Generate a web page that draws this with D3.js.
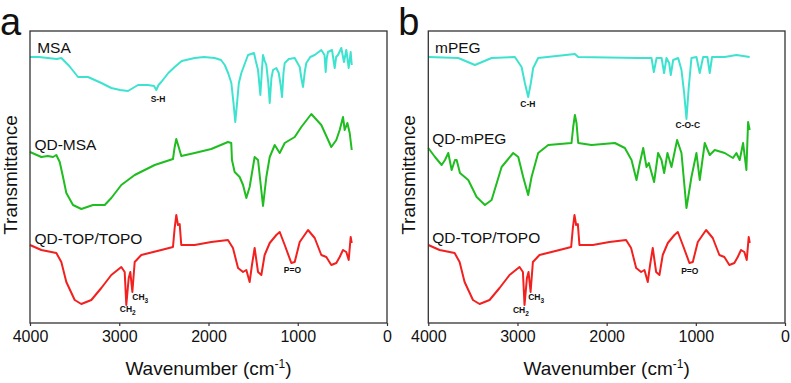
<!DOCTYPE html>
<html lang="en">

<head>
    <meta charset="utf-8">
    <title>FTIR spectra</title>
    <script src="https://d3js.org/d3.v7.min.js"></script>
    <style>
        body { margin: 0; background: #fff; }
        text { font-family: "Liberation Sans", Arial, sans-serif; }
    </style>
</head>

<body>
    <svg width="791" height="383"></svg>

    <script>
        // x: wavenumber (cm-1), y: transmittance in arbitrary units (stacked offsets)
        const xTicks = [4000, 3000, 2000, 1000, 0];

        const msaWn = [4000, 3900, 3800, 3700, 3649, 3560, 3462, 3350, 3200, 3089, 2990, 2902, 2790, 2678, 2610, 2585, 2560, 2529, 2450, 2379, 2300, 2155, 2050, 1931, 1860, 1818, 1780, 1744, 1720, 1700, 1680, 1660, 1632, 1557, 1490, 1470, 1445, 1419, 1400, 1389, 1370, 1352, 1330, 1314, 1295, 1277, 1240, 1213, 1195, 1176, 1160, 1146, 1100, 1034, 978, 960, 941, 920, 904, 860, 810, 736, 700, 687, 675, 661, 616, 586, 570, 549, 512, 482, 456, 429, 407, 395];
        const msaT = [266, 266, 265, 264, 265, 257, 246, 246, 240, 235, 233, 232, 238, 238, 237, 233, 238, 241, 250, 256, 262, 265, 266, 265, 263, 258, 250, 240, 220, 201, 220, 240, 250, 268, 270, 262, 253, 228, 255, 268, 262, 258, 240, 220, 245, 253, 255, 250, 240, 226, 250, 260, 264, 265, 256, 245, 236, 252, 260, 266, 268, 273, 268, 251, 265, 271, 273, 255, 266, 268, 275, 261, 273, 255, 271, 258];

        const qdMsaWn = [4000, 3873, 3800, 3742, 3705, 3667, 3630, 3593, 3518, 3425, 3294, 3163, 3089, 2977, 2827, 2603, 2398, 2379, 2361, 2334, 2305, 2155, 1969, 1782, 1745, 1737, 1707, 1651, 1613, 1576, 1539, 1483, 1445, 1389, 1352, 1314, 1258, 1202, 1146, 1034, 960, 848, 736, 624, 568, 530, 493, 474, 444, 418, 395];
        const qdMsaT = [171, 166, 167, 166, 168, 161, 146, 130, 118, 114, 118, 118, 125, 138, 148, 158, 164, 176, 184, 176, 167, 170, 174, 181, 180, 163, 151, 146, 138, 125, 136, 166, 163, 117, 146, 166, 178, 170, 180, 186, 196, 209, 198, 176, 183, 193, 206, 193, 200, 190, 173];

        const topoWn = [4000, 3873, 3705, 3649, 3593, 3499, 3425, 3313, 3201, 3089, 2977, 2939, 2921, 2894, 2876, 2853, 2827, 2753, 2529, 2398, 2379, 2361, 2342, 2323, 2305, 2155, 1969, 1782, 1726, 1669, 1613, 1576, 1539, 1513, 1483, 1445, 1408, 1371, 1314, 1240, 1202, 1146, 1072, 1034, 978, 885, 810, 736, 680, 624, 568, 530, 493, 456, 429, 407, 395];
        const topoT = [78, 73, 70, 61, 41, 23, 19, 23, 35, 48, 56, 51, 18, 45, 51, 31, 61, 68, 73, 76, 95, 108, 98, 99, 78, 78, 81, 83, 75, 55, 51, 53, 41, 58, 75, 51, 48, 68, 80, 88, 91, 78, 60, 61, 81, 93, 85, 68, 66, 58, 60, 66, 73, 71, 63, 86, 80];

        const mpegWn = [4000, 3664, 3477, 3290, 3029, 2954, 2917, 2880, 2850, 2824, 2768, 2356, 2319, 1647, 1497, 1471, 1440, 1384, 1356, 1329, 1299, 1281, 1254, 1198, 1161, 1131, 1105, 1079, 1049, 993, 956, 918, 870, 844, 818, 676, 545, 396];
        const mpegT = [266, 265, 258, 265, 266, 256, 240, 226, 240, 255, 265, 269, 266, 265, 265, 251, 265, 265, 250, 265, 260, 248, 263, 265, 253, 230, 204, 236, 265, 266, 250, 266, 266, 250, 266, 266, 268, 266];

        const qdMpegWn = [4000, 3925, 3850, 3813, 3776, 3738, 3701, 3682, 3645, 3552, 3458, 3365, 3290, 3178, 3048, 2991, 2936, 2880, 2842, 2768, 2655, 2394, 2375, 2356, 2338, 2319, 2169, 1908, 1796, 1721, 1665, 1628, 1590, 1553, 1527, 1468, 1423, 1385, 1355, 1318, 1273, 1210, 1161, 1105, 1049, 993, 956, 900, 844, 788, 676, 583, 545, 508, 470, 433, 414, 396];
        const qdMpegT = [175, 166, 158, 163, 170, 153, 163, 163, 150, 143, 126, 118, 123, 156, 170, 166, 146, 128, 146, 170, 178, 180, 196, 208, 200, 180, 178, 180, 175, 163, 143, 160, 175, 156, 160, 141, 170, 163, 150, 170, 156, 183, 170, 115, 146, 170, 143, 180, 168, 173, 170, 165, 170, 163, 180, 153, 201, 193];

        const panelA = {
            letter: "a",
            series: [
                { name: "MSA", wn: msaWn, t: msaT, color: "#3ee3cf", lx: 3920, ly: 270 },
                { name: "QD-MSA", wn: qdMsaWn, t: qdMsaT, color: "#1fbd1f", lx: 3950, ly: 173 },
                { name: "QD-TOP/TOPO", wn: topoWn, t: topoT, color: "#f2201e", lx: 3950, ly: 79 }
            ],
            notes: [
                { text: "S-H", wn: 2566, t: 221 },
                { text: "CH", sub: "2", wn: 2905, t: 11 },
                { text: "CH", sub: "3", wn: 2765, t: 23 },
                { text: "P=O", wn: 1059, t: 50 }
            ]
        };

        const panelB = {
            letter: "b",
            series: [
                { name: "mPEG", wn: mpegWn, t: mpegT, color: "#3ee3cf", lx: 3925, ly: 270 },
                { name: "QD-mPEG", wn: qdMpegWn, t: qdMpegT, color: "#1fbd1f", lx: 3955, ly: 179 },
                { name: "QD-TOP/TOPO", wn: topoWn, t: topoT, color: "#f2201e", lx: 3955, ly: 80 }
            ],
            notes: [
                { text: "C-H", wn: 2883, t: 216 },
                { text: "C-O-C", wn: 1090, t: 195 },
                { text: "CH", sub: "2", wn: 2962, t: 10 },
                { text: "CH", sub: "3", wn: 2790, t: 23 },
                { text: "P=O", wn: 1068, t: 49 }
            ]
        };

        const svg = d3.select("svg");
        const plotTop = 31, plotBottom = 323;

        function drawPanel(panel, left, right) {
            const g = svg.append("g");

            const x = d3.scaleLinear().domain([4000, 0]).range([left, right]);
            const y = d3.scaleLinear().domain([0, 292]).range([plotBottom, plotTop]);

            const line = d3.line()
                .x(d => x(d[0]))
                .y(d => y(d[1]));

            panel.series.forEach(s => {
                const pts = s.wn.map((w, i) => [w, s.t[i]]);
                g.append("path")
                    .datum(pts)
                    .attr("fill", "none")
                    .attr("stroke", s.color)
                    .attr("stroke-width", 2)
                    .attr("stroke-linejoin", "round")
                    .attr("d", line);

                g.append("text")
                    .attr("x", x(s.lx))
                    .attr("y", y(s.ly))
                    .attr("font-size", 15.5)
                    .attr("fill", "#111")
                    .text(s.name);
            });

            panel.notes.forEach(n => {
                const t = g.append("text")
                    .attr("x", x(n.wn))
                    .attr("y", y(n.t))
                    .attr("text-anchor", "middle")
                    .attr("font-size", 8.5)
                    .attr("font-weight", "bold")
                    .attr("fill", "#111")
                    .text(n.text);
                if (n.sub) {
                    t.append("tspan")
                        .attr("dy", 3)
                        .attr("font-size", 6.5)
                        .text(n.sub);
                }
            });

            // frame
            g.append("rect")
                .attr("x", left)
                .attr("y", plotTop)
                .attr("width", right - left)
                .attr("height", plotBottom - plotTop)
                .attr("fill", "none")
                .attr("stroke", "#333")
                .attr("stroke-width", 1.3);

            const axis = d3.axisBottom(x)
                .tickValues(xTicks)
                .tickSize(3)
                .tickFormat(d3.format("d"));

            const ax = g.append("g")
                .attr("transform", `translate(0,${plotBottom})`)
                .call(axis);
            ax.select(".domain").remove();
            ax.selectAll("line").attr("stroke", "#333").attr("stroke-width", 1.2);
            ax.selectAll("text")
                .attr("font-size", 16)
                .attr("font-family", "'Liberation Sans', Arial, sans-serif")
                .attr("fill", "#111")
                .attr("y", 8);

            const title = g.append("text")
                .attr("x", (left + right) / 2)
                .attr("y", 375)
                .attr("text-anchor", "middle")
                .attr("font-size", 19)
                .attr("fill", "#111")
                .text("Wavenumber (cm");
            title.append("tspan").attr("dy", -7).attr("font-size", 12).text("-1");
            title.append("tspan").attr("dy", 7).text(")");

            g.append("text")
                .attr("transform", `translate(${left - 13},175) rotate(-90)`)
                .attr("text-anchor", "middle")
                .attr("font-size", 19)
                .attr("fill", "#111")
                .text("Transmittance");

            g.append("text")
                .attr("x", left - 30)
                .attr("y", 35)
                .attr("font-size", 38)
                .attr("fill", "#111")
                .text(panel.letter);
        }

        drawPanel(panelA, 30, 387);
        drawPanel(panelB, 428.3, 785);
    </script>
</body>

</html>
